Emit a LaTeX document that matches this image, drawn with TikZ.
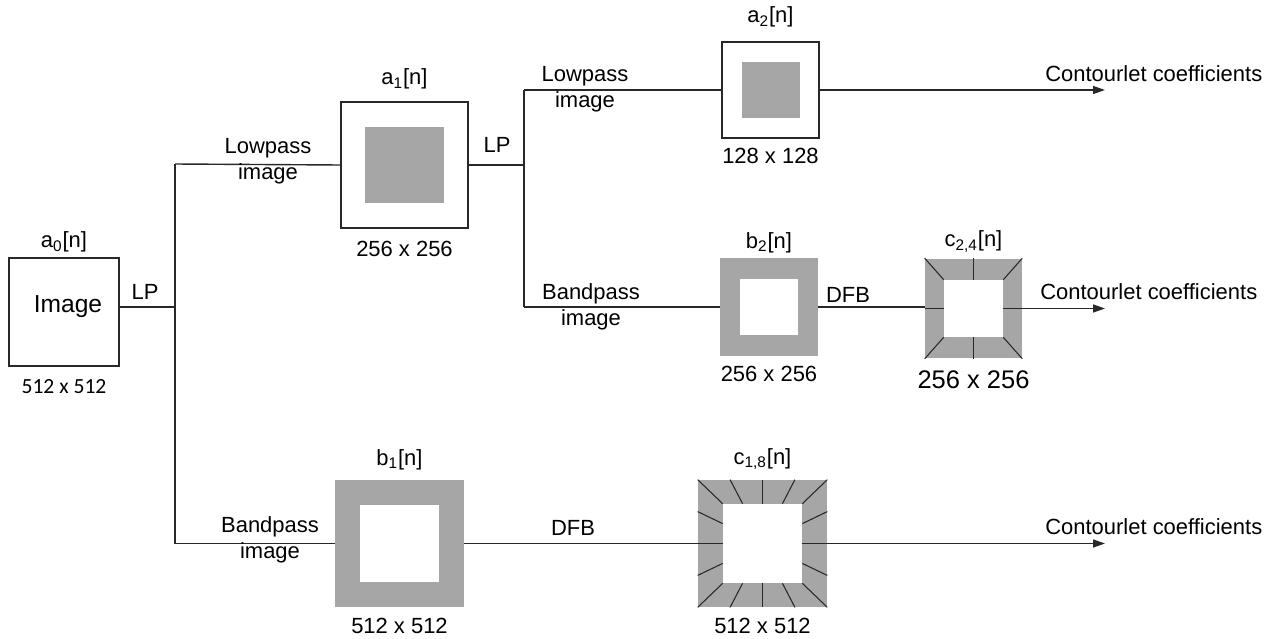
\documentclass[tikz,border=0pt]{standalone}
\usepackage{fontspec}
\setmainfont{Liberation Sans}
\newfontfamily\calfont{Carlito}
\usetikzlibrary{arrows.meta, positioning, calc}
\definecolor{bandgray}{RGB}{166,166,166}
\definecolor{wireblack}{RGB}{40,40,40}

\begin{document}
\begin{tikzpicture}[
        x=0.02cm, y=-0.02cm,
        lowBox/.style={
            draw=wireblack,
            line width=0.8pt,
            fill=white,
            inner sep=0pt
        },
        lowCore/.style={
            fill=bandgray,
            inner sep=0pt
        },
        bandBox/.style={
            fill=bandgray,
            inner sep=0pt
        },
        bandCore/.style={
            fill=white,
            inner sep=0pt
        },
        wire/.style={
            draw=wireblack,
            line width=0.8pt
        },
        outWire/.style={
            wire,
            -{Triangle[length=2.4mm, width=1.6mm]}
        },
        dirLine/.style={
            draw=wireblack,
            line width=0.6pt
        },
        lbl/.style={
            font=\fontsize{12.5}{15}\selectfont,
            align=center,
            inner sep=0pt
        },
        bigLbl/.style={
            font=\fontsize{14.5}{17}\selectfont,
            inner sep=0pt
        }
    ]

        \useasboundingbox (0,0) rectangle (1272,639);

        % Boxes
        \node[lowBox, minimum width=2.2cm, minimum height=2.16cm] (img) at (64,312) {};
        \node[font=\fontsize{14}{17}\selectfont, inner sep=0pt] (imgtext) at (68,307) {Image};

        \node[lowBox, minimum width=2.54cm, minimum height=2.52cm] (a1) at (404.5,165) {};
        \node[lowCore, minimum width=1.6cm, minimum height=1.54cm] (a1core) at (a1.center) {};

        \node[lowBox, minimum width=1.94cm, minimum height=1.92cm] (a2) at (770.5,90) {};
        \node[lowCore, minimum width=1.16cm, minimum height=1.12cm] (a2core) at (a2.center) {};

        \node[bandBox, minimum width=1.96cm, minimum height=1.96cm] (b2) at (769,307) {};
        \node[bandCore, minimum width=1.16cm, minimum height=1.14cm] (b2core) at (b2.center) {};

        \node[bandBox, minimum width=1.94cm, minimum height=2cm] (c24) at (973.5,308.5) {};
        \node[bandCore, minimum width=1.18cm, minimum height=1.14cm] (c24core) at (c24.center) {};

        \node[bandBox, minimum width=2.58cm, minimum height=2.54cm] (b1) at (399.5,543.5) {};
        \node[bandCore, minimum width=1.6cm, minimum height=1.56cm] (b1core) at (b1.center) {};

        \node[bandBox, minimum width=2.58cm, minimum height=2.54cm] (c18) at (762.5,543.5) {};
        \node[bandCore, minimum width=1.58cm, minimum height=1.58cm] (c18core) at (c18.center) {};

        % Directional lines
        \foreach \dir in {north, south, east, west, north west, north east, south west, south east} {
            \draw[dirLine] (c24core.\dir) -- (c24.\dir);
            \draw[dirLine] (c18core.\dir) -- (c18.\dir);
        }
        \foreach \side/\corner in {north/north west, north/north east, south/south west, south/south east,
                                   west/north west, west/south west, east/north east, east/south east} {
            \draw[dirLine] ($(c18core.\side)!0.5!(c18core.\corner)$) -- ($(c18.\side)!0.5!(c18.\corner)$);
        }

        % Junctions and outputs
        \coordinate (j1) at (175,307);
        \coordinate (j1top) at (175,164);
        \coordinate (j1bot) at (175,543.5);
        \coordinate (j2) at (524,165);
        \coordinate (j2top) at (524,90);
        \coordinate (j2bot) at (524,307);
        \coordinate (out1) at (1105,90);
        \coordinate (out2) at (1105,308.5);
        \coordinate (out3) at (1105,543.5);

        % Connectors
        \draw[wire] (img.east |- j1) -- (j1);
        \draw[wire] (j1top) -- (j1bot);
        \draw[wire] (j1top) -- (a1.west);
        \draw[wire] (j1bot) -- (b1.west);
        \draw[wire] (a1.east) -- (j2);
        \draw[wire] (j2top) -- (j2bot);
        \draw[wire] (j2top) -- (a2.west);
        \draw[wire] (j2bot) -- (b2.west);
        \draw[wire] (b2.east) -- (b2.east -| c24.west);
        \draw[wire] (b1.east) -- (c18.west);
        \draw[outWire] (a2.east) -- (out1);
        \draw[outWire] (c24.east) -- (out2);
        \draw[outWire] (c18.east) -- (out3);

        % Signal names
        \node[lbl, above=0.09cm of img] (a0lbl) {a\textsubscript{0}[n]};
        \node[lbl, above=0.23cm of a1] (a1lbl) {a\textsubscript{1}[n]};
        \node[lbl, above=0.27cm of a2] (a2lbl) {a\textsubscript{2}[n]};
        \node[lbl, above=0.09cm of b2] (b2lbl) {b\textsubscript{2}[n]};
        \node[lbl, above=0.11cm of c24] (c24lbl) {c\textsubscript{2,4}[n]};
        \node[lbl, above=0.19cm of b1] (b1lbl) {b\textsubscript{1}[n]};
        \node[lbl, above=0.19cm of c18] (c18lbl) {c\textsubscript{1,8}[n]};

        % Sizes
        \node[lbl, font=\calfont\fontsize{12.3}{15}\selectfont, below=0.24cm of img] (imgsize) {512 x 512};
        \node[lbl, below=0.24cm of a1] (a1size) {256 x 256};
        \node[lbl, below=0.18cm of a2] (a2size) {128 x 128};
        \node[lbl, below=0.18cm of b2] (b2size) {256 x 256};
        \node[bigLbl, below=0.24cm of c24] (c24size) {256 x 256};
        \node[lbl, below=0.2cm of b1] (b1size) {512 x 512};
        \node[lbl, below=0.2cm of c18] (c18size) {512 x 512};

        % Branch labels
        \node[lbl] (lp1) at (145,292) {LP};
        \node[lbl] (lp2) at (497,145) {LP};
        \node[lbl] (low1) at (268,161) {Lowpass\\image};
        \node[lbl] (band1) at (270,540) {Bandpass\\image};
        \node[lbl] (low2) at (585,89) {Lowpass\\image};
        \node[lbl] (band2) at (591,307) {Bandpass\\image};
        \node[lbl] (dfb1) at (573,528) {DFB};
        \node[lbl] (dfb2) at (848,295) {DFB};
        \node[lbl, anchor=west] (coef1) at (1045,74) {Contourlet coefficients};
        \node[lbl, anchor=west] (coef2) at (1040,292) {Contourlet coefficients};
        \node[lbl, anchor=west] (coef3) at (1045,527) {Contourlet coefficients};

    \end{tikzpicture}
\end{document}
